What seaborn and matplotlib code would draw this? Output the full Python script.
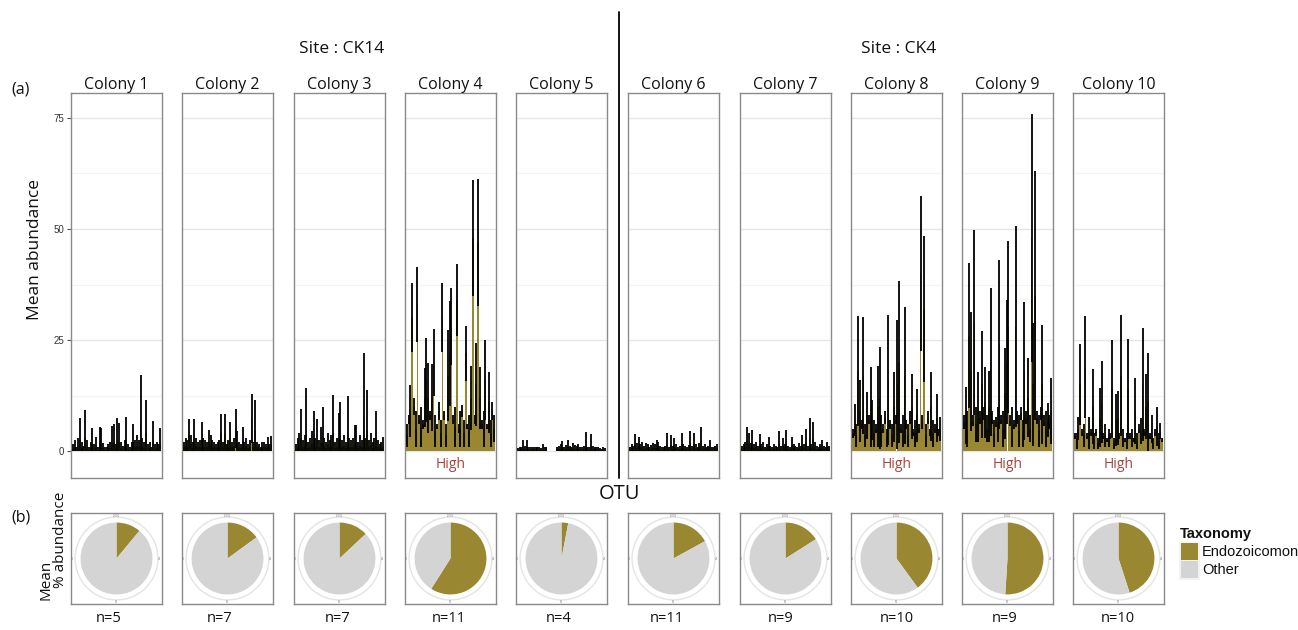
import numpy as np
import pandas as pd
import matplotlib
matplotlib.use('Agg')
import matplotlib.pyplot as plt
import seaborn as sns
from matplotlib.patches import Circle, Rectangle

# Colonies, sites and sample sizes
colonies = ['Colony 1', 'Colony 2', 'Colony 3', 'Colony 4', 'Colony 5',
            'Colony 6', 'Colony 7', 'Colony 8', 'Colony 9', 'Colony 10']
sites = ['Site : CK14', 'Site : CK4']
n_samples = [5, 7, 7, 11, 4, 11, 9, 10, 9, 10]
high = [False, False, False, True, False, False, False, True, True, True]

# Mean % abundance of Endozoicomonas per colony (pie charts)
endo_pct = [11, 15, 13, 59, 3, 17, 16, 40, 51, 45]

# Mean abundance per OTU (bar) and top of the error bar (mean + sd)
c1_mean = [0.5, 0.8, 0.3, 1.0, 2.5, 0.6, 0.4, 3.0, 0.8, 0.3, 0.6, 1.6, 0.5, 1.0, 0.3, 1.8, 1.6, 0.6, 0.3, 0.2,
           0.5, 0.6, 1.8, 2.0, 0.5, 2.4, 2.1, 0.6, 0.4, 0.8, 2.5, 0.5, 0.3, 0.6, 2.0, 0.8, 1.2, 0.8, 6.5, 1.0,
           0.6, 4.0, 0.5, 0.6, 0.3, 2.2, 0.5, 0.6, 0.5, 1.6]
c1_upper = [1.5, 2.5, 1.0, 3.0, 7.4, 2.0, 1.2, 9.2, 2.5, 1.0, 2.0, 5.1, 1.5, 3.2, 1.0, 5.5, 5.1, 1.8, 1.0, 0.8,
            1.5, 2.0, 5.6, 6.1, 1.5, 7.4, 6.4, 2.0, 1.2, 2.5, 7.7, 1.5, 1.0, 2.0, 6.1, 2.5, 3.5, 2.5, 17.1, 3.0,
            2.0, 11.4, 1.5, 2.0, 1.0, 6.8, 1.5, 2.0, 1.5, 5.1]
c2_mean = [0.8, 1.2, 1.0, 3.5, 1.5, 0.8, 3.0, 1.2, 0.8, 1.0, 2.6, 1.2, 1.0, 0.8, 2.0, 1.4, 1.0, 0.8, 0.6, 0.8,
           1.0, 4.0, 0.8, 3.8, 0.6, 1.0, 2.8, 0.8, 1.2, 5.0, 1.8, 0.8, 0.6, 2.2, 0.8, 1.2, 0.6, 1.0, 7.4, 0.8,
           4.5, 0.8, 0.6, 0.4, 0.8, 0.8, 0.6, 1.2, 0.6, 1.3]
c2_upper = [2.0, 3.0, 2.5, 7.1, 3.5, 2.0, 7.1, 3.0, 2.0, 2.5, 6.6, 3.0, 2.5, 2.0, 4.7, 3.5, 2.5, 2.0, 1.5, 2.0,
            2.5, 8.3, 2.0, 8.3, 1.5, 2.5, 6.6, 2.0, 3.0, 9.4, 4.5, 2.0, 1.5, 5.5, 2.0, 3.0, 1.5, 2.5, 12.9, 2.0,
            11.4, 2.0, 1.5, 1.0, 2.0, 2.1, 1.5, 3.2, 1.5, 3.4]
c3_mean = [0.5, 1.0, 1.4, 3.0, 0.8, 1.2, 4.5, 0.7, 1.0, 1.5, 3.0, 1.0, 2.4, 0.8, 1.8, 3.3, 1.0, 0.7, 1.3, 0.8,
           1.2, 4.0, 0.7, 1.0, 2.8, 3.6, 0.8, 1.2, 0.7, 4.0, 1.0, 0.8, 1.0, 2.0, 2.0, 0.7, 1.2, 0.8, 8.0, 1.0,
           4.5, 0.8, 1.3, 0.7, 1.0, 3.0, 0.8, 0.5, 0.7, 1.0]
c3_upper = [1.5, 3.0, 4.0, 9.4, 2.5, 3.5, 14.1, 2.0, 3.0, 4.5, 9.1, 3.0, 7.1, 2.5, 5.5, 10.0, 3.0, 2.0, 4.0, 2.5,
            3.5, 12.6, 2.0, 3.0, 8.5, 11.1, 2.5, 3.5, 2.0, 12.4, 3.0, 2.5, 3.0, 5.9, 5.9, 2.0, 3.5, 2.5, 22.0, 3.0,
            13.8, 2.5, 4.0, 2.0, 3.0, 9.1, 2.5, 1.5, 2.0, 3.2]
c4_mean = [3.5, 7.0, 9.0, 30.0, 10.0, 5.0, 33.0, 7.0, 5.5, 6.0, 12.0, 16.0, 12.0, 8.0, 12.0, 20.0, 4.5, 5.5, 9.0, 4.0,
           30.0, 8.0, 3.5, 17.0, 22.0, 28.0, 7.0, 5.5, 34.0, 5.0, 5.0, 9.0, 4.0, 22.0, 5.5, 4.5, 12.0, 48.0, 7.0, 15.0,
           47.0, 12.0, 6.0, 5.0, 16.0, 5.5, 11.0, 4.0, 9.0, 5.0]
c4_upper = [6.0, 8.0, 14.9, 37.8, 12.0, 9.0, 41.4, 8.0, 10.0, 7.0, 18.6, 25.4, 19.9, 9.0, 19.6, 27.5, 8.0, 6.0, 11.0, 7.0,
            37.8, 9.0, 6.0, 27.3, 33.8, 36.7, 8.0, 10.0, 42.2, 6.0, 9.0, 10.4, 7.0, 28.2, 6.0, 8.0, 19.2, 61.0, 8.0, 24.3,
            61.3, 19.0, 7.0, 9.0, 25.0, 6.0, 17.9, 7.0, 11.0, 8.0]
c5_mean = [0.2, 0.3, 0.4, 0.8, 0.4, 0.8, 0.4, 0.3, 0.4, 0.4, 0.3, 0.4, 0.3, 0.2, 0.5, 0.3, 0.4, 0.0, 0.0, 0.0,
           0.0, 0.0, 0.4, 0.4, 0.5, 0.8, 0.4, 0.5, 0.8, 0.4, 0.4, 0.6, 0.5, 0.4, 0.5, 0.4, 0.3, 0.4, 1.4, 0.4,
           0.3, 1.2, 0.4, 0.4, 0.3, 0.4, 0.2, 0.1, 0.3, 0.2]
c5_upper = [0.6, 0.8, 1.0, 2.5, 1.2, 2.5, 1.0, 0.8, 1.0, 1.0, 0.8, 1.0, 0.9, 0.6, 1.5, 0.8, 1.0, 0.0, 0.0, 0.0,
            0.0, 0.0, 1.0, 1.2, 1.5, 2.3, 1.0, 1.4, 2.5, 1.2, 1.0, 1.8, 1.4, 1.2, 1.6, 1.0, 0.8, 1.2, 4.2, 1.0,
            0.8, 3.8, 1.2, 1.0, 0.8, 1.0, 0.6, 0.4, 0.8, 0.6]
c6_mean = [0.4, 0.6, 0.5, 1.4, 0.7, 1.2, 0.6, 0.8, 0.5, 0.7, 0.6, 0.4, 0.5, 0.7, 0.6, 1.0, 0.8, 0.5, 0.3, 0.4,
           0.5, 1.6, 0.4, 1.3, 0.5, 1.1, 0.6, 0.4, 0.5, 1.5, 0.6, 0.5, 0.4, 0.5, 1.8, 0.5, 1.6, 0.6, 0.4, 0.7,
           2.2, 0.5, 0.6, 0.4, 0.5, 1.0, 0.4, 0.3, 0.5, 0.6]
c6_upper = [1.0, 1.5, 1.2, 3.8, 1.8, 3.2, 1.5, 2.0, 1.2, 1.8, 1.5, 1.0, 1.4, 1.8, 1.5, 2.5, 2.0, 1.2, 0.8, 1.0,
            1.2, 4.0, 1.0, 3.5, 1.2, 3.0, 1.5, 1.0, 1.2, 4.0, 1.5, 1.2, 1.0, 1.4, 4.5, 1.2, 4.0, 1.5, 1.0, 1.8,
            5.3, 1.2, 1.5, 1.0, 1.2, 2.5, 1.0, 0.8, 1.2, 1.5]
c7_mean = [0.5, 0.6, 0.8, 2.2, 1.6, 0.7, 1.9, 0.6, 0.8, 0.5, 1.5, 0.6, 0.8, 0.4, 0.6, 1.3, 0.5, 0.4, 0.6, 0.5,
           0.4, 1.8, 0.5, 1.2, 0.6, 1.9, 0.5, 0.4, 1.3, 0.6, 0.5, 0.4, 0.7, 0.5, 1.4, 0.6, 2.0, 0.5, 3.0, 0.6,
           2.6, 0.8, 0.5, 0.4, 0.6, 1.0, 0.5, 0.4, 0.8, 0.5]
c7_upper = [1.2, 1.5, 2.0, 5.3, 4.0, 1.8, 4.7, 1.5, 2.0, 1.2, 3.8, 1.5, 2.0, 1.0, 1.5, 3.2, 1.2, 1.0, 1.5, 1.2,
            1.0, 4.5, 1.2, 2.9, 1.5, 4.7, 1.2, 1.0, 3.2, 1.5, 1.2, 1.0, 1.8, 1.2, 3.6, 1.5, 5.0, 1.2, 7.5, 1.5,
            6.6, 2.0, 1.2, 1.0, 1.5, 2.5, 1.2, 1.0, 2.1, 1.2]
c8_mean = [4.0, 7.0, 3.5, 18.0, 9.0, 6.0, 17.0, 3.5, 8.0, 7.0, 10.0, 7.0, 4.0, 5.0, 10.0, 12.0, 4.5, 5.0, 7.5, 3.0,
           16.0, 6.0, 3.5, 10.0, 7.0, 15.0, 20.0, 5.0, 4.5, 17.0, 6.0, 3.5, 7.5, 10.0, 4.2, 4.0, 8.0, 5.0, 40.0, 6.5,
           32.0, 3.5, 7.5, 4.2, 10.0, 4.0, 5.0, 7.5, 4.2, 5.0]
c8_upper = [5.0, 10.6, 6.0, 30.3, 16.0, 7.0, 30.2, 6.0, 13.4, 8.0, 19.0, 11.5, 7.0, 6.0, 19.2, 23.5, 8.0, 6.0, 9.0, 5.0,
            30.7, 7.0, 6.0, 17.9, 8.0, 29.5, 38.2, 6.0, 8.0, 32.4, 7.0, 6.0, 9.0, 17.4, 5.0, 7.0, 13.9, 6.0, 57.4, 8.0,
            48.5, 6.0, 9.0, 5.0, 17.7, 7.0, 6.0, 12.9, 5.0, 7.7]
c9_mean = [6.5, 8.0, 5.0, 26.0, 18.0, 6.8, 29.0, 6.0, 10.0, 7.5, 15.0, 8.5, 11.0, 5.0, 10.0, 20.0, 7.5, 4.0, 6.5, 6.0,
           24.0, 7.0, 5.0, 13.0, 20.0, 28.0, 6.8, 5.5, 6.0, 28.0, 7.5, 4.5, 8.5, 4.0, 18.0, 7.5, 12.0, 5.0, 48.0, 15.0,
           35.0, 7.5, 4.5, 8.5, 15.0, 6.8, 5.0, 7.0, 6.5, 9.0]
c9_upper = [8.0, 14.5, 9.0, 42.3, 31.4, 8.0, 49.8, 10.0, 17.9, 9.0, 27.0, 10.0, 19.0, 8.0, 18.0, 36.7, 9.0, 7.0, 7.7, 10.0,
            43.0, 8.0, 9.0, 23.3, 34.0, 47.4, 8.0, 10.0, 7.0, 50.6, 9.0, 8.0, 10.0, 7.0, 33.5, 9.0, 20.9, 8.0, 76.0, 28.8,
            63.0, 9.0, 8.0, 10.0, 28.4, 8.0, 9.0, 10.8, 8.0, 16.5]
c10_mean = [3.4, 2.2, 5.0, 15.0, 4.2, 3.5, 19.0, 3.4, 4.0, 4.2, 10.0, 2.2, 4.2, 1.7, 7.5, 11.0, 3.4, 3.5, 2.5, 3.0,
            3.4, 14.0, 1.7, 7.0, 7.5, 3.4, 17.0, 3.0, 2.5, 2.2, 14.0, 3.4, 3.0, 2.5, 9.0, 2.2, 5.0, 4.5, 15.0, 4.2,
            10.0, 11.0, 3.4, 5.0, 1.7, 4.2, 5.5, 2.2, 4.5, 2.5]
c10_upper = [4.0, 4.0, 7.6, 24.1, 5.0, 6.0, 30.5, 4.0, 7.6, 5.0, 18.4, 4.0, 5.0, 3.0, 14.1, 20.2, 4.0, 6.0, 3.0, 5.0,
             4.0, 25.0, 3.0, 12.9, 13.6, 4.0, 30.7, 5.0, 3.0, 4.0, 25.2, 4.0, 5.0, 3.0, 16.4, 4.0, 6.0, 7.4, 27.7, 5.0,
             17.4, 22.0, 4.0, 8.1, 3.0, 5.0, 9.8, 4.0, 6.4, 3.0]

means = [c1_mean, c2_mean, c3_mean, c4_mean, c5_mean, c6_mean, c7_mean, c8_mean, c9_mean, c10_mean]
uppers = [c1_upper, c2_upper, c3_upper, c4_upper, c5_upper, c6_upper, c7_upper, c8_upper, c9_upper, c10_upper]

OLIVE = '#9a8732'
GREY = '#d4d4d4'
FRAME = '#8a8a8a'

sns.set_theme(style='white')
plt.rcParams['font.family'] = ['Open Sans', 'DejaVu Sans']

W, H = 1298, 630
fig = plt.figure(figsize=(W / 100, H / 100), dpi=100)


def box(x0, y0, x1, y1):
    # pixel box (top-left origin) -> figure fraction rect
    return [x0 / W, 1 - y1 / H, (x1 - x0) / W, (y1 - y0) / H]


def ftext(x, y, s, **kw):
    fig.text(x / W, 1 - y / H, s, **kw)


panel_left = [71, 182, 294, 405, 516, 628, 740, 851, 962, 1073]
n_x = [109, 220, 338, 449, 559, 667, 781, 897, 1005, 1118]

# (a) bar panels
for i, name in enumerate(colonies):
    ax = fig.add_axes(box(panel_left[i], 93, panel_left[i] + 91, 478))
    df = pd.DataFrame({'otu': np.arange(len(means[i])), 'mean': means[i], 'upper': uppers[i]})
    df['lower'] = np.maximum(2 * df['mean'] - df['upper'], 0)

    for y in [12.5, 37.5, 62.5]:
        ax.axhline(y, color='#f4f4f4', lw=0.8, zorder=0)
    for y in [0, 25, 50, 75]:
        ax.axhline(y, color='#e6e6e6', lw=1.0, zorder=0)

    sns.barplot(data=df, x='otu', y='mean', color=OLIVE, saturation=1, width=1.0,
                errorbar=None, linewidth=0, native_scale=True, ax=ax, zorder=2)
    ax.vlines(df['otu'], df['lower'], df['upper'], color='black', lw=1.3, zorder=3)

    ax.set_xlim(-1, 50)
    ax.set_ylim(-6.08, 80.63)
    ax.set_xlabel('')
    ax.set_ylabel('')
    ax.set_xticks([])
    ax.set_yticks([0, 25, 50, 75])
    if i == 0:
        ax.tick_params(axis='y', left=True, length=3, width=0.8, color='#555555',
                       labelsize=7, pad=2, labelcolor='#333333')
        for lab in ax.get_yticklabels():
            lab.set_family('Liberation Sans')
    else:
        ax.tick_params(axis='y', left=False, labelleft=False)
    for sp in ax.spines.values():
        sp.set_visible(True)
        sp.set_color(FRAME)
        sp.set_linewidth(1.0)
    ax.set_title(name, fontsize=11.5, pad=3, color='#111111')
    if high[i]:
        ax.text(24.5, -3.0, 'High', color='#a9443a', fontsize=10, ha='center', va='center')

# (b) pie panels
for i, name in enumerate(colonies):
    pax = fig.add_axes(box(panel_left[i], 513, panel_left[i] + 91, 604))
    pax.pie([endo_pct[i], 100 - endo_pct[i]], colors=[OLIVE, GREY], startangle=90,
            counterclock=False, radius=0.79, wedgeprops=dict(linewidth=0))
    pax.set_aspect('auto')
    pax.set_xlim(-1, 1)
    pax.set_ylim(-1, 1)
    pax.add_patch(Circle((0, 0), 0.91, fill=False, ec='#e4e4e4', lw=1.0))
    for (tx, ty, s) in [(0, 0.935, '0/100'), (0.955, 0, '25'), (0, -0.955, '50'), (-0.955, 0, '75')]:
        pax.text(tx, ty, s, fontsize=2, color='#777777', ha='center', va='center')
    pax.set_frame_on(True)
    for sp in pax.spines.values():
        sp.set_visible(True)
        sp.set_color(FRAME)
        sp.set_linewidth(1.0)
    ftext(n_x[i], 619, f'n={n_samples[i]}', fontsize=10.5, ha='center', va='center', color='#111111')

# divider between sites
fig.add_artist(plt.Line2D([619 / W, 619 / W], [1 - 12 / H, 1 - 478 / H], color='black', lw=1.3))

# headings and labels
ftext(342, 49, sites[0], fontsize=12.5, ha='center', va='center', color='#111111')
ftext(899, 49, sites[1], fontsize=12.5, ha='center', va='center', color='#111111')
ftext(21, 90, '(a)', fontsize=11.5, ha='center', va='center', color='#111111')
ftext(21, 517, '(b)', fontsize=11.5, ha='center', va='center', color='#111111')
ftext(620, 494, 'OTU', fontsize=14.5, ha='center', va='center', color='#111111')
ftext(35, 250, 'Mean abundance', fontsize=12.5, rotation=90, ha='center', va='center', color='#111111')
ftext(46, 580, 'Mean', fontsize=11, rotation=90, ha='center', va='center', color='#111111')
ftext(61, 540, '% abundance', fontsize=11, rotation=90, ha='center', va='center', color='#111111')

# legend (the reference shows the label cut at the figure edge)
fig.add_artist(Rectangle((1179 / W, 1 - 580 / H), 21 / W, 38 / H, transform=fig.transFigure,
                         facecolor='#f2f2f2', edgecolor='none'))
fig.add_artist(Rectangle((1181 / W, 1 - 560 / H), 17 / W, 17 / H, transform=fig.transFigure,
                         facecolor=OLIVE, edgecolor='none'))
fig.add_artist(Rectangle((1181 / W, 1 - 578 / H), 17 / W, 17 / H, transform=fig.transFigure,
                         facecolor=GREY, edgecolor='none'))
ftext(1180, 534, 'Taxonomy', fontsize=10.5, fontweight='bold', family='Liberation Sans',
      ha='left', va='center', color='#111111')
ftext(1202, 552, 'Endozoicomon', fontsize=10.5, family='Liberation Sans', ha='left', va='center', color='#111111')
ftext(1202, 570, 'Other', fontsize=10.5, family='Liberation Sans', ha='left', va='center', color='#111111')

fig.savefig('out.png', dpi=100)
